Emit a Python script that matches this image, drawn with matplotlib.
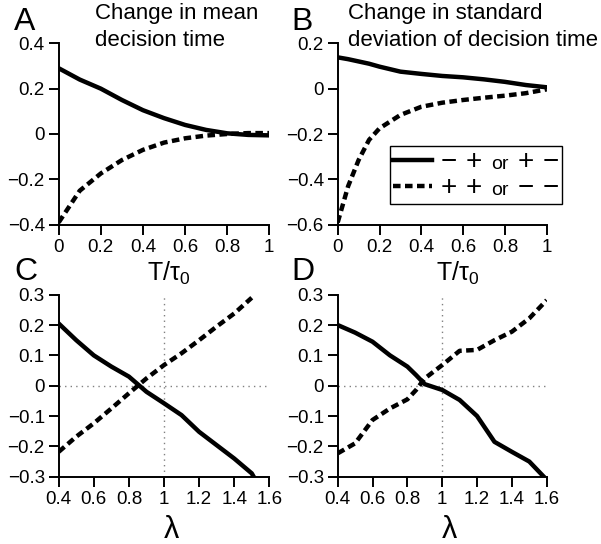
import numpy as np
import matplotlib.pyplot as plt
from matplotlib.lines import Line2D
from matplotlib.offsetbox import AnchoredOffsetbox, HPacker, VPacker, TextArea, DrawingArea

plt.rcParams['font.family'] = ['Liberation Sans', 'DejaVu Sans']
plt.rcParams['mathtext.fontset'] = 'custom'
plt.rcParams['mathtext.rm'] = 'Liberation Sans'
plt.rcParams['mathtext.it'] = 'Liberation Sans'

# Panel A: change in mean decision time vs T/tau0
a_x = [0, 0.1, 0.2, 0.3, 0.4, 0.5, 0.6, 0.7, 0.8, 0.9, 1.0]
a_solid = [0.29, 0.24, 0.20, 0.15, 0.105, 0.07, 0.04, 0.018, 0.003, -0.004, -0.006]
a_dash = [-0.39, -0.25, -0.174, -0.115, -0.07, -0.038, -0.019, -0.007, 0.0, 0.004, 0.004]

# Panel B: change in SD of decision time vs T/tau0
b_x = [0, 0.05, 0.1, 0.15, 0.2, 0.3, 0.4, 0.5, 0.6, 0.7, 0.8, 0.9, 1.0]
b_solid = [0.138, 0.13, 0.12, 0.11, 0.097, 0.075, 0.065, 0.056, 0.05, 0.041, 0.03, 0.016, 0.006]
b_dash = [-0.59, -0.43, -0.315, -0.226, -0.175, -0.116, -0.08, -0.062, -0.05, -0.04, -0.031, -0.02, -0.003]

# Panel C: mean vs lambda
c_x = [0.4, 0.5, 0.6, 0.7, 0.8, 0.9, 1.0, 1.1, 1.2, 1.3, 1.4, 1.5, 1.6]
c_solid = [0.205, 0.15, 0.10, 0.063, 0.03, -0.02, -0.058, -0.097, -0.152, -0.196, -0.24, -0.289, -0.39]
c_dash_x = [0.4, 0.5, 0.6, 0.7, 0.8, 0.9, 1.0, 1.1, 1.2, 1.3, 1.4, 1.5]
c_dash = [-0.218, -0.168, -0.124, -0.075, -0.025, 0.024, 0.068, 0.107, 0.15, 0.195, 0.238, 0.29]

# Panel D: SD vs lambda
d_x = [0.4, 0.5, 0.6, 0.7, 0.8, 0.85, 0.9, 1.0, 1.1, 1.2, 1.3, 1.4, 1.5, 1.6]
d_solid = [0.2, 0.175, 0.145, 0.10, 0.063, 0.035, 0.005, -0.014, -0.047, -0.10, -0.185, -0.218, -0.25, -0.31]
d_dash = [-0.223, -0.19, -0.113, -0.075, -0.045, -0.014, 0.024, 0.068, 0.115, 0.118, 0.15, 0.178, 0.222, 0.282]

fig = plt.figure(figsize=(6.01, 5.44), dpi=100)
W, H = 601, 544

def make_ax(x0, x1, y0, y1):
    return fig.add_axes([x0 / W, 1 - y1 / H, (x1 - x0) / W, (y1 - y0) / H])

axA = make_ax(58.7, 269.3, 43.3, 224.7)
axB = make_ax(337.7, 546.7, 43.3, 224.7)
axC = make_ax(58.7, 269.3, 294.7, 476.7)
axD = make_ax(337.7, 546.7, 294.7, 476.7)

lw = 3.2
dash = (1.7, 1.0)

axA.plot(a_x, a_solid, color='black', lw=lw)
axA.plot(a_x, a_dash, color='black', lw=lw, dashes=dash)
axB.plot(b_x, b_solid, color='black', lw=lw)
axB.plot(b_x, b_dash, color='black', lw=lw, dashes=dash)

for ax in (axC, axD):
    ax.axvline(1, color='gray', lw=1, ls=(0, (1, 3)))
    ax.axhline(0, color='gray', lw=1, ls=(0, (1, 3)))
axC.plot(c_x, c_solid, color='black', lw=lw)
axC.plot(c_dash_x, c_dash, color='black', lw=lw, dashes=dash)
axD.plot(d_x, d_solid, color='black', lw=lw)
axD.plot(d_x, d_dash, color='black', lw=lw, dashes=dash)

axA.set_xlim(0, 1); axA.set_ylim(-0.4, 0.4)
axA.set_yticks([-0.4, -0.2, 0, 0.2, 0.4])
axA.set_yticklabels(['\u22120.4', '\u22120.2', '0', '0.2', '0.4'])
axB.set_xlim(0, 1); axB.set_ylim(-0.6, 0.2)
axB.set_yticks([-0.6, -0.4, -0.2, 0, 0.2])
axB.set_yticklabels(['\u22120.6', '\u22120.4', '\u22120.2', '0', '0.2'])
for ax in (axA, axB):
    ax.set_xticks([0, 0.2, 0.4, 0.6, 0.8, 1])
    ax.set_xticklabels(['0', '0.2', '0.4', '0.6', '0.8', '1'])
for ax in (axC, axD):
    ax.set_xlim(0.4, 1.6); ax.set_ylim(-0.3, 0.3)
    ax.set_xticks([0.4, 0.6, 0.8, 1, 1.2, 1.4, 1.6])
    ax.set_xticklabels(['0.4', '0.6', '0.8', '1', '1.2', '1.4', '1.6'])
    ax.set_yticks([-0.3, -0.2, -0.1, 0, 0.1, 0.2, 0.3])
    ax.set_yticklabels(['\u22120.3', '\u22120.2', '\u22120.1', '0', '0.1', '0.2', '0.3'])

for ax in (axA, axB, axC, axD):
    ax.spines['top'].set_visible(False)
    ax.spines['right'].set_visible(False)
    ax.spines['left'].set_linewidth(1.4)
    ax.spines['bottom'].set_linewidth(1.4)
    ax.tick_params(direction='out', length=7, width=1.4, labelsize=13.5)
    ax.tick_params(axis='x', pad=3)
    ax.tick_params(axis='y', pad=3)

# panel letters
for ax, letter, x0, y0 in ((axA, 'A', 14, 30), (axB, 'B', 291, 30), (axC, 'C', 14, 280), (axD, 'D', 291, 280)):
    ax.text(x0 / W, 1 - y0 / H, letter, transform=fig.transFigure,
            fontsize=23, va='baseline', ha='left')

axA.text(95 / W, 1 - 3 / H, 'Change in mean\ndecision time', transform=fig.transFigure,
         fontsize=16, va='top', ha='left', linespacing=1.4)
axB.text(348 / W, 1 - 3 / H, 'Change in standard\ndeviation of decision time', transform=fig.transFigure,
         fontsize=16, va='top', ha='left', linespacing=1.4)

for ax, x0 in ((axA, 147), (axB, 436)):
    ax.text(x0 / W, 1 - 281 / H, 'T/\u03c4$_0$', transform=fig.transFigure,
            fontsize=18, ha='left', va='baseline')
for ax, xc in ((axC, 171), (axD, 449)):
    ax.text(xc / W, 1 - 538 / H, '\u03bb', transform=fig.transFigure,
            fontsize=22, ha='center', va='baseline')

# legend in panel B
def legend_row(style, signs):
    da = DrawingArea(28, 13, 0, 0)
    da.add_artist(Line2D([0, 28], [6, 6], color='black', lw=lw, **style))
    parts = [da]
    for s in signs:
        size = 14 if s == 'or' else 20
        parts.append(TextArea(s, textprops=dict(fontsize=size)))
    return HPacker(children=parts, align='baseline', pad=0, sep=6.5)

rows = VPacker(children=[legend_row({}, ['\u2212', '+', 'or', '+', '\u2212']),
                         legend_row({'dashes': dash}, ['+', '+', 'or', '\u2212', '\u2212'])],
               align='left', pad=0, sep=0)
box = AnchoredOffsetbox(loc='upper left', child=rows, pad=0.2, borderpad=0,
                        frameon=True, bbox_to_anchor=((390 - 337.7) / 209, (224.7 - 146) / 181.4),
                        bbox_transform=axB.transAxes)
box.patch.set_linewidth(1)
box.patch.set_edgecolor('black')
axB.add_artist(box)

fig.savefig('out.png', dpi=100)
